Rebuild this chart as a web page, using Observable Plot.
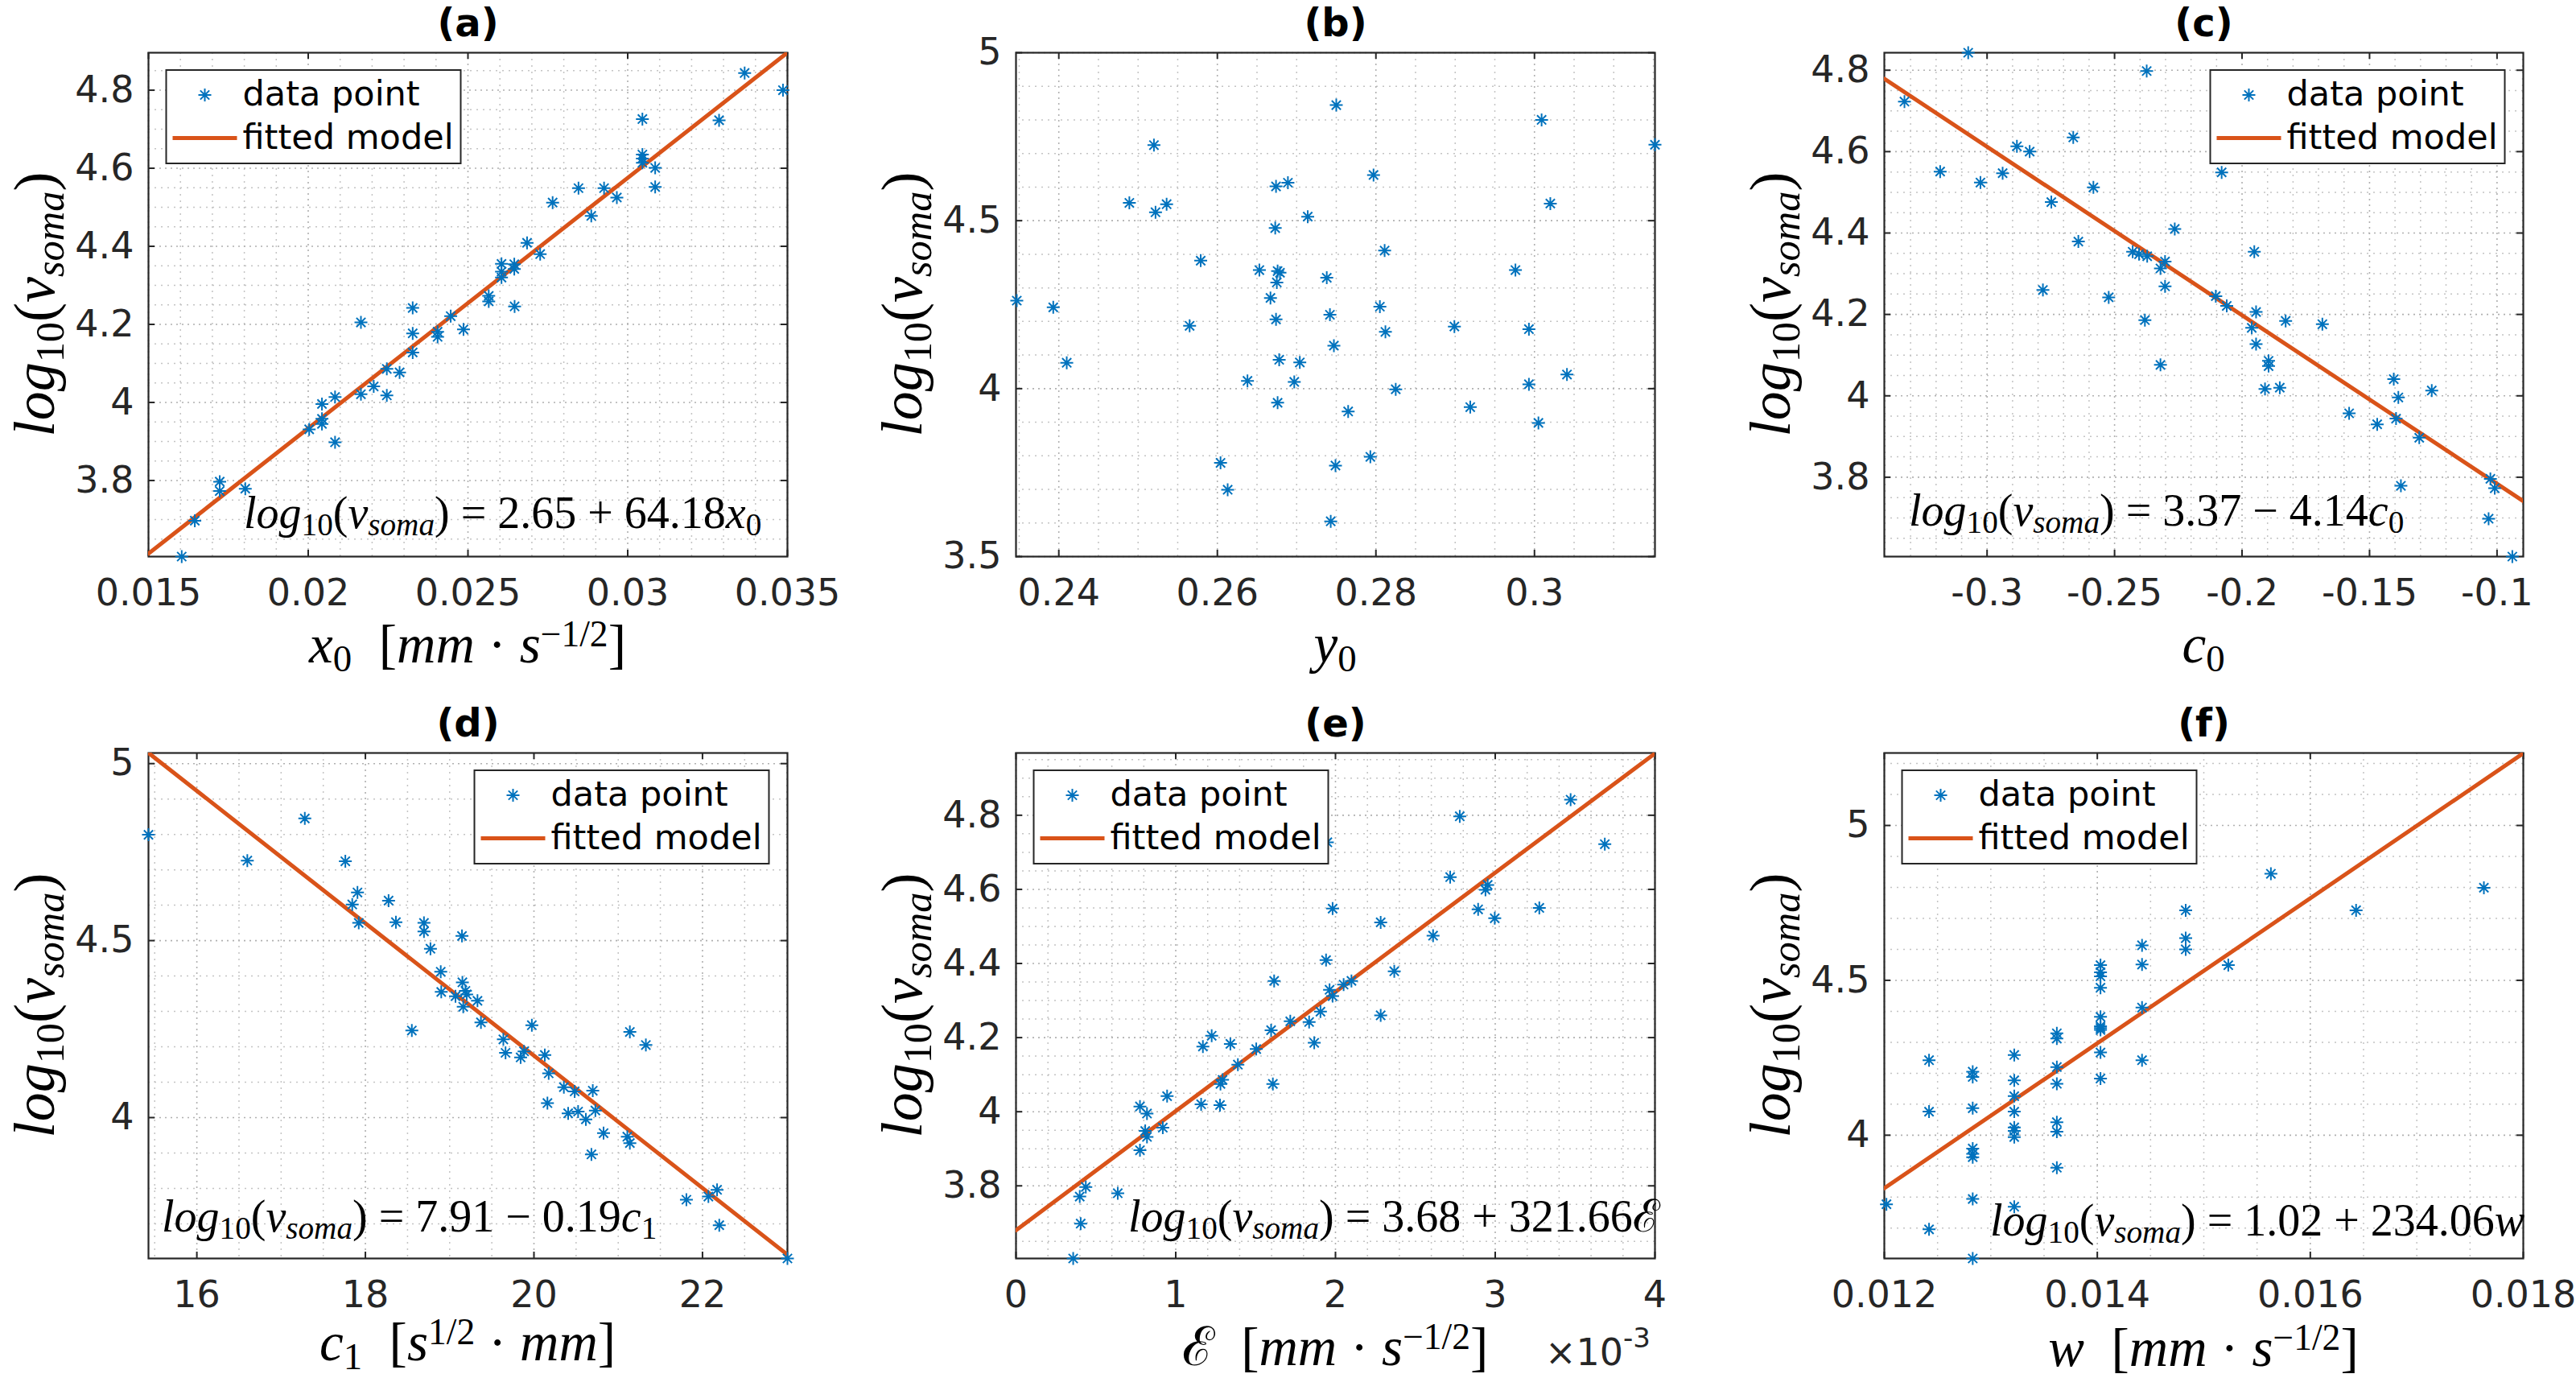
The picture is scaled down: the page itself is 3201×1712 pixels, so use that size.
<!DOCTYPE html>
<html><head><meta charset="utf-8">
<script src="https://cdn.jsdelivr.net/npm/d3@7"></script>
<script src="https://cdn.jsdelivr.net/npm/@observablehq/plot@0.6"></script>
<style>
html,body{margin:0;padding:0;background:#fff;}
#fig{position:relative;width:3201px;height:1712px;overflow:hidden;background:#fff;}
#fig > svg{position:absolute;overflow:visible;}
</style></head><body><div id="fig"></div>
<script>
// ---------------- data ----------------
const x0 = [0.01604,0.01645,0.01723,0.01723,0.01803,0.02003,0.02043,0.02043,0.02043,0.02084,0.02084,0.02165,0.02165,0.02205,0.02246,0.02246,0.02286,0.02327,0.02327,0.02327,0.02405,0.02405,0.02446,0.02486,0.02565,0.02565,0.02605,0.02605,0.02605,0.02645,0.02645,0.02646,0.02685,0.02726,0.02765,0.02846,0.02886,0.02926,0.02966,0.03046,0.03046,0.03046,0.03046,0.03086,0.03086,0.03286,0.03366,0.03486];
const logvA = [3.605,3.697,3.797,3.773,3.779,3.931,3.996,3.958,3.945,4.014,3.898,4.205,4.021,4.041,4.086,4.018,4.077,4.242,4.177,4.128,4.181,4.168,4.221,4.187,4.273,4.259,4.355,4.320,4.335,4.354,4.342,4.246,4.409,4.380,4.512,4.549,4.478,4.549,4.525,4.726,4.635,4.625,4.614,4.601,4.552,4.723,4.844,4.800];

const y0 = [0.2750,0.3009,0.3152,0.2520,0.2797,0.2674,0.2689,0.2489,0.2536,0.3020,0.2522,0.2714,0.2673,0.2811,0.2579,0.2653,0.2676,0.2679,0.2976,0.2738,0.2675,0.2667,0.2347,0.2393,0.2805,0.2742,0.2674,0.2565,0.2899,0.2993,0.2812,0.2747,0.2678,0.2704,0.2410,0.3041,0.2638,0.2697,0.2993,0.2825,0.2676,0.2919,0.2765,0.3005,0.2793,0.2604,0.2749,0.2613,0.2743];
const logvB = [4.844,4.800,4.726,4.725,4.636,4.602,4.613,4.553,4.549,4.551,4.525,4.512,4.478,4.411,4.381,4.353,4.350,4.345,4.353,4.330,4.316,4.270,4.262,4.242,4.244,4.220,4.206,4.187,4.185,4.177,4.169,4.128,4.086,4.078,4.077,4.042,4.023,4.020,4.013,3.998,3.958,3.945,3.932,3.898,3.797,3.779,3.771,3.699,3.605];

const c0 = [-0.3074,-0.2374,-0.3324,-0.2662,-0.2883,-0.2833,-0.3184,-0.2939,-0.3026,-0.2080,-0.2583,-0.2748,-0.2264,-0.2642,-0.1952,-0.2429,-0.2404,-0.2372,-0.2302,-0.2320,-0.2302,-0.2781,-0.2523,-0.2103,-0.2060,-0.1945,-0.2381,-0.1829,-0.1685,-0.1962,-0.1945,-0.2320,-0.1896,-0.1896,-0.1910,-0.1852,-0.1405,-0.1387,-0.1256,-0.1580,-0.1470,-0.1396,-0.1305,-0.1026,-0.1009,-0.1377,-0.1033,-0.0940];
const logvC = [4.843,4.798,4.723,4.635,4.613,4.600,4.551,4.547,4.524,4.549,4.512,4.476,4.410,4.379,4.354,4.354,4.348,4.343,4.330,4.313,4.269,4.260,4.242,4.245,4.221,4.206,4.186,4.184,4.176,4.167,4.127,4.076,4.086,4.073,4.017,4.020,4.041,3.996,4.013,3.957,3.930,3.944,3.897,3.796,3.773,3.779,3.698,3.605];

const c1 = [15.426,17.281,16.599,17.762,17.906,17.844,17.921,18.275,18.362,18.695,18.695,19.146,18.772,18.894,18.900,19.069,19.151,19.187,19.202,19.161,19.330,19.371,18.551,19.975,19.637,19.663,19.842,19.883,20.129,20.175,21.138,21.328,20.355,20.483,20.698,20.160,20.406,20.524,20.729,20.616,20.826,21.108,21.138,20.682,21.809,22.070,22.173,22.199,23.008];
const logvD = [4.799,4.845,4.726,4.724,4.636,4.602,4.550,4.613,4.552,4.550,4.526,4.513,4.477,4.412,4.355,4.343,4.382,4.358,4.348,4.313,4.330,4.269,4.246,4.261,4.221,4.183,4.170,4.187,4.177,4.125,4.242,4.205,4.086,4.074,4.076,4.041,4.012,4.017,4.020,3.995,3.956,3.946,3.928,3.896,3.768,3.777,3.796,3.696,3.602];

// epsilon values in units of 1e-3 mm*s^-1/2
const epsE3 = [0.358,0.405,0.399,0.437,0.637,0.776,0.820,0.809,0.919,0.776,0.820,0.946,1.159,1.277,1.280,1.293,1.389,1.170,1.225,1.342,1.504,1.597,1.608,1.616,1.717,1.835,1.867,1.906,1.941,1.963,1.982,1.982,2.051,2.100,2.283,2.283,2.368,2.611,2.718,2.778,2.893,2.939,2.953,2.997,3.276,3.472,3.686,1.949];
const logvE = [3.604,3.698,3.771,3.797,3.780,3.896,3.932,3.948,3.957,4.014,3.995,4.042,4.020,4.018,4.075,4.086,4.127,4.176,4.205,4.183,4.169,4.220,4.075,4.353,4.244,4.242,4.186,4.270,4.409,4.329,4.312,4.548,4.343,4.353,4.511,4.260,4.379,4.475,4.633,4.797,4.546,4.599,4.612,4.522,4.550,4.842,4.722,4.727];

const wv = [0.01202,0.01242,0.01242,0.01242,0.01283,0.01283,0.01283,0.01283,0.01283,0.01283,0.01283,0.01283,0.01322,0.01322,0.01322,0.01322,0.01322,0.01322,0.01322,0.01322,0.01362,0.01362,0.01362,0.01362,0.01362,0.01362,0.01362,0.01403,0.01403,0.01403,0.01403,0.01403,0.01403,0.01403,0.01403,0.01403,0.01403,0.01442,0.01442,0.01442,0.01442,0.01483,0.01483,0.01483,0.01523,0.01563,0.01643,0.01763];
const logvF = [3.777,4.242,4.076,3.696,4.205,4.188,4.087,3.957,3.940,3.929,3.794,3.602,4.259,4.177,4.126,4.076,4.025,4.014,3.994,3.769,4.329,4.312,4.220,4.166,4.042,4.011,3.895,4.549,4.526,4.513,4.476,4.382,4.352,4.346,4.340,4.267,4.183,4.613,4.551,4.412,4.242,4.726,4.636,4.600,4.549,4.844,4.726,4.799];

// fitted models [intercept, slope]
const fitA = [2.65, 64.18];
const fitC = [3.37, -4.14];
const fitD = [7.915, -0.187];
const fitE = [3.68, 321.66];
const fitF = [1.02, 234.06];

// axis limits
const xDomA = [0.015, 0.035], yDomA = [3.605, 4.896];
const xDomB = [0.2346, 0.3152], yDomB = [3.5, 5];
const xDomC = [-0.3403, -0.0897], yDomC = [3.605, 4.843];
const xDomD = [15.426, 23.008], yDomD = [3.602, 5.030];
const xDomE = [0, 4], yDomE = [3.604, 4.968];
const xDomF = [0.012, 0.018], yDomF = [3.602, 5.234];

// ticks
const xTicksA = [0.015, 0.02, 0.025, 0.03, 0.035], xLabA = ["0.015","0.02","0.025","0.03","0.035"];
const xTicksB = [0.24, 0.26, 0.28, 0.3], xLabB = ["0.24","0.26","0.28","0.3"];
const xTicksC = [-0.3, -0.25, -0.2, -0.15, -0.1], xLabC = ["-0.3","-0.25","-0.2","-0.15","-0.1"];
const xTicksD = [16, 18, 20, 22], xLabD = ["16","18","20","22"];
const xTicksE = [0, 1, 2, 3, 4], xLabE = ["0","1","2","3","4"];
const xTicksF = [0.012, 0.014, 0.016, 0.018], xLabF = ["0.012","0.014","0.016","0.018"];
const yTicks48 = [3.8, 4, 4.2, 4.4, 4.6, 4.8], yLab48 = ["3.8","4","4.2","4.4","4.6","4.8"];
const yTicksB = [3.5, 4, 4.5, 5], yLabB = ["3.5","4","4.5","5"];
const yTicks45 = [4, 4.5, 5], yLab45 = ["4","4.5","5"];

const titles = ["(a)", "(b)", "(c)", "(d)", "(e)", "(f)"];
const legendLabels = ["data point", "fitted model"];

// ---------------- layout / style ----------------
const BLUE = "#0072BD", ORANGE = "#D95319", AX = "#262626";
const SERIF = "'Liberation Serif','Times New Roman',serif";
const SANS = "'DejaVu Sans',sans-serif";
const colLeft = [184, 1262, 2341], rowTop = [65, 935], rowH = [626, 628], W = 794;
const xLabOff = [132, 132, 132, 127, 133, 134];
const ML = 200, MR = 40, MT = 80, MB = 149;

const asterisk = {
  draw(ctx, size) {
    const r = Math.sqrt(size / Math.PI), a = r * Math.SQRT1_2;
    ctx.moveTo(-r, 0); ctx.lineTo(r, 0);
    ctx.moveTo(0, -r); ctx.lineTo(0, r);
    ctx.moveTo(-a, -a); ctx.lineTo(a, a);
    ctx.moveTo(-a, a); ctx.lineTo(a, -a);
  }
};

const I = (t) => ({t, it: true});
const U = (t) => ({t});
const SUB = (t, it) => ({t, sub: true, it});
const SUP = (t) => ({t, sup: true});
const NB = "\u00a0";
const vsoma = [I("log"), SUB("10"), U("("), I("v"), SUB("soma", true), U(")")];
const unitMs = [U(NB + "["), I("mm"), U(NB + "·" + NB), I("s"), SUP("−1/2"), U("]")];

const panels = [
  {x: x0, y: logvA, xd: xDomA, yd: yDomA, xt: xTicksA, xl: xLabA, yt: yTicks48, yl: yLab48, xm: 0.001, ym: 0.05, fit: fitA, xs: 1,
   leg: "nw", eq: [...vsoma, U(NB + "=" + NB + "2.65" + NB + "+" + NB + "64.18"), I("x"), SUB("0")], eqPos: [119, -35],
   xlab: [I("x"), SUB("0"), U(NB), ...unitMs]},
  {x: y0, y: logvB, xd: xDomB, yd: yDomB, xt: xTicksB, xl: xLabB, yt: yTicksB, yl: yLabB, xm: 0.005, ym: 0.1, fit: null,
   xlab: [I("y"), SUB("0")]},
  {x: c0, y: logvC, xd: xDomC, yd: yDomC, xt: xTicksC, xl: xLabC, yt: yTicks48, yl: yLab48, xm: 0.01, ym: 0.05, fit: fitC, xs: 1,
   leg: "ne", eq: [...vsoma, U(NB + "=" + NB + "3.37" + NB + "−" + NB + "4.14"), I("c"), SUB("0")], eqPos: [31, -38],
   xlab: [I("c"), SUB("0")]},
  {x: c1, y: logvD, xd: xDomD, yd: yDomD, xt: xTicksD, xl: xLabD, yt: yTicks45, yl: yLab45, xm: 0.5, ym: 0.1, fit: fitD, xs: 1,
   leg: "ne", eq: [...vsoma, U(NB + "=" + NB + "7.91" + NB + "−" + NB + "0.19"), I("c"), SUB("1")], eqPos: [17, -33],
   xlab: [I("c"), SUB("1"), U(NB + NB + "["), I("s"), SUP("1/2"), U(NB + "·" + NB), I("mm"), U("]")]},
  {x: epsE3, y: logvE, xd: xDomE, yd: yDomE, xt: xTicksE, xl: xLabE, yt: yTicks48, yl: yLab48, xm: 0.2, ym: 0.05, fit: fitE, xs: 1e-3,
   leg: "nw", eq: [...vsoma, U(NB + "=" + NB + "3.68" + NB + "+" + NB + "321.66ℰ")], eqPos: [140, -33],
   xlab: [U("ℰ"), U(NB), ...unitMs], exp: true},
  {x: wv, y: logvF, xd: xDomF, yd: yDomF, xt: xTicksF, xl: xLabF, yt: yTicks45, yl: yLab45, xm: 0.0005, ym: 0.1, fit: fitF, xs: 1,
   leg: "nw", eq: [...vsoma, U(NB + "=" + NB + "1.02" + NB + "+" + NB + "234.06"), I("w")], eqPos: [132, -28],
   xlab: [I("w"), U(NB), ...unitMs]}
];

function minors(dom, step, majors) {
  const out = [];
  const n0 = Math.ceil(dom[0] / step - 1e-6), n1 = Math.floor(dom[1] / step + 1e-6);
  for (let k = n0; k <= n1; k++) {
    const v = k * step;
    if (!majors.some((m) => Math.abs(m - v) < step * 1e-3)) out.push(v);
  }
  return out;
}

function mathText(sel, parts, F, anchor) {
  const t = sel.append("text").attr("text-anchor", anchor).attr("font-family", SERIF)
    .attr("font-size", F).attr("fill", "#000");
  let cur = 0;
  for (const p of parts) {
    const sh = p.sub ? 0.16 * F : p.sup ? -0.3 * F : 0;
    t.append("tspan").attr("dy", sh - cur).attr("font-size", p.sub ? 0.7 * F : p.sup ? 0.68 * F : F)
      .attr("font-style", p.it ? "italic" : "normal").text(p.t);
    cur = sh;
  }
  return t;
}

const fig = document.getElementById("fig");

panels.forEach((p, i) => {
  const col = i % 3, row = Math.floor(i / 3), H = rowH[row];
  const data = p.x.map((v, k) => ({x: v, y: p.y[k]}));
  const xfmt = new Map(p.xt.map((v, k) => [v, p.xl[k]]));
  const yfmt = new Map(p.yt.map((v, k) => [v, p.yl[k]]));
  const gridMinor = {stroke: "#c4c4c4", strokeWidth: 1.5, strokeDasharray: "2 6"};
  const gridMajor = {stroke: "#b0b0b0", strokeWidth: 1.6, strokeDasharray: "2 5"};
  const tickStyle = {stroke: AX, strokeWidth: 2};
  const marks = [
    Plot.ruleX(minors(p.xd, p.xm, p.xt), gridMinor),
    Plot.ruleY(minors(p.yd, p.ym, p.yt), gridMinor),
    Plot.ruleX(p.xt, gridMajor),
    Plot.ruleY(p.yt, gridMajor),
    Plot.axisX({ticks: p.xt, tickFormat: (d) => xfmt.get(d), tickSize: 0, tickPadding: 28, label: null, fontSize: 46, fill: AX}),
    Plot.axisY({ticks: p.yt, tickFormat: (d) => yfmt.get(d), tickSize: 0, tickPadding: 18, label: null, fontSize: 46, fill: AX}),
    Plot.ruleX(p.xt, {y1: p.yd[0], y2: p.yd[0], insetBottom: 8, ...tickStyle}),
    Plot.ruleX(p.xt, {y1: p.yd[1], y2: p.yd[1], insetTop: 8, ...tickStyle}),
    Plot.ruleY(p.yt, {x1: p.xd[0], x2: p.xd[0], insetLeft: 8, ...tickStyle}),
    Plot.ruleY(p.yt, {x1: p.xd[1], x2: p.xd[1], insetRight: 8, ...tickStyle}),
    Plot.frame({stroke: AX, strokeWidth: 2.2})
  ];
  if (p.fit) {
    const fitPts = p.xd.map((v) => ({x: v, y: p.fit[0] + p.fit[1] * v * p.xs}));
    marks.push(Plot.line(fitPts, {x: "x", y: "y", stroke: ORANGE, strokeWidth: 5, clip: true}));
  }
  marks.push(Plot.dot(data, {x: "x", y: "y", symbol: asterisk, r: 8, stroke: BLUE, fill: "none", strokeWidth: 2}));
  marks.push(Plot.text([titles[i]], {frameAnchor: "top", dy: -21, lineAnchor: "bottom", fontSize: 48, fontWeight: "bold", fill: "#000", fontFamily: SANS}));

  const svg = Plot.plot({
    width: W + ML + MR, height: H + MT + MB,
    marginLeft: ML, marginRight: MR, marginTop: MT, marginBottom: MB,
    style: {fontFamily: SANS, fontSize: "46px", color: AX, background: "transparent", overflow: "visible"},
    x: {domain: p.xd}, y: {domain: p.yd},
    marks
  });
  svg.style.left = (colLeft[col] - ML) + "px";
  svg.style.top = (rowTop[row] - MT) + "px";
  fig.appendChild(svg);
  const s = d3.select(svg);

  // y label
  mathText(s.append("g").attr("transform", `translate(${ML - 117},${MT + H / 2}) rotate(-90)`), vsoma, 72, "middle");
  // x label
  mathText(s.append("g").attr("transform", `translate(${ML + W / 2},${MT + H + xLabOff[i]})`), p.xlab, 67, "middle");
  if (p.exp) {
    const t = s.append("text").attr("x", ML + W - 5).attr("y", MT + H + 133).attr("text-anchor", "end")
      .attr("font-family", SANS).attr("font-size", 46).attr("fill", AX);
    t.append("tspan").text("×10");
    t.append("tspan").attr("dy", -22).attr("font-size", 34).text("-3");
  }
  // equation
  if (p.eq) {
    mathText(s.append("g").attr("transform", `translate(${ML + p.eqPos[0]},${MT + H + p.eqPos[1]})`), p.eq, 56, "start");
  }
  // legend
  if (p.leg) {
    const bw = 366, bh = 116;
    const bx = p.leg === "nw" ? ML + 22.5 : ML + W - 22.5 - bw, by = MT + 22;
    const g = s.append("g").attr("transform", `translate(${bx},${by})`);
    g.append("rect").attr("width", bw).attr("height", bh).attr("fill", "#fff").attr("stroke", AX).attr("stroke-width", 2);
    g.append("path").attr("transform", "translate(48,31)").attr("d", d3.symbol(asterisk, Math.PI * 64)())
      .attr("fill", "none").attr("stroke", BLUE).attr("stroke-width", 2);
    g.append("line").attr("x1", 8).attr("x2", 88).attr("y1", 84.5).attr("y2", 84.5).attr("stroke", ORANGE).attr("stroke-width", 5);
    g.append("text").attr("x", 95).attr("y", 44).attr("text-anchor", "start").attr("font-family", SANS).attr("font-size", 43).attr("fill", "#000").text(legendLabels[0]);
    g.append("text").attr("x", 95).attr("y", 98.4).attr("text-anchor", "start").attr("font-family", SANS).attr("font-size", 43).attr("fill", "#000").text(legendLabels[1]);
  }
});
</script>
</body></html>
